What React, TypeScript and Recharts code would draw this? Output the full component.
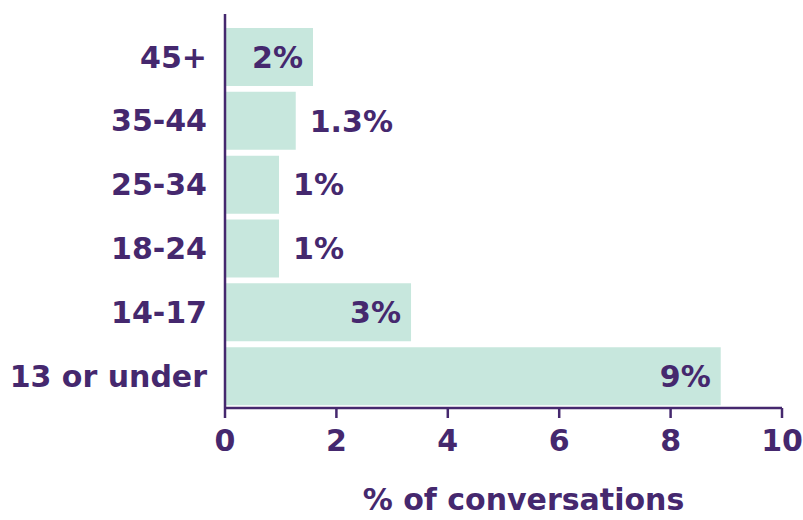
import { BarChart, Bar, XAxis, YAxis, LabelList } from "recharts";

const ageGroups = ["45+", "35-44", "25-34", "18-24", "14-17", "13 or under"];
const shares = [1.58, 1.27, 0.97, 0.97, 3.34, 8.9];
const shareLabels = ["2%", "1.3%", "1%", "1%", "3%", "9%"];
const xTicks = [0, 2, 4, 6, 8, 10];

const data = ageGroups.map((group, i) => ({
  group,
  share: shares[i],
  label: shareLabels[i],
}));

const purple = "#45286e";
const mint = "#c7e7dd";
const font = "'DejaVu Sans', sans-serif";

const renderLabel = (props: any) => {
  const { x, y, width, height, index } = props;
  const text = shareLabels[index];
  const inside = width > 80;
  return (
    <text
      x={inside ? x + width - 10 : x + width + 14}
      y={y + height / 2}
      dy="0.36em"
      textAnchor={inside ? "end" : "start"}
      fill={purple}
      fontSize={30}
      fontWeight={600}
      fontFamily={font}
    >
      {text}
    </text>
  );
};

export default function App() {
  return (
    <div style={{ position: "absolute", left: 0, top: 0, background: "#fff" }}>
      <BarChart
        width={803}
        height={520}
        data={data}
        layout="vertical"
        margin={{ top: 14, right: 21, bottom: 52, left: 0 }}
        barCategoryGap={3}
      >
        <XAxis
          type="number"
          domain={[0, 10]}
          ticks={xTicks}
          height={60}
          stroke={purple}
          strokeWidth={2.5}
          tickSize={10}
          tickMargin={12}
          tick={{ fill: purple, fontSize: 30, fontWeight: 700, fontFamily: font }}
          label={{
            value: "% of conversations",
            position: "insideBottom",
            offset: -42,
            dx: 20,
            fill: purple,
            fontSize: 30,
            fontWeight: 600,
            fontFamily: font,
          }}
        />
        <YAxis
          type="category"
          dataKey="group"
          width={225}
          padding={{ top: 11, bottom: 0 }}
          stroke={purple}
          strokeWidth={2.5}
          tickLine={false}
          tickMargin={12}
          tick={{ fill: purple, fontSize: 30, fontWeight: 700, fontFamily: font }}
        />
        <Bar dataKey="share" fill={mint} isAnimationActive={false}>
          <LabelList dataKey="label" content={renderLabel} />
        </Bar>
      </BarChart>
    </div>
  );
}
